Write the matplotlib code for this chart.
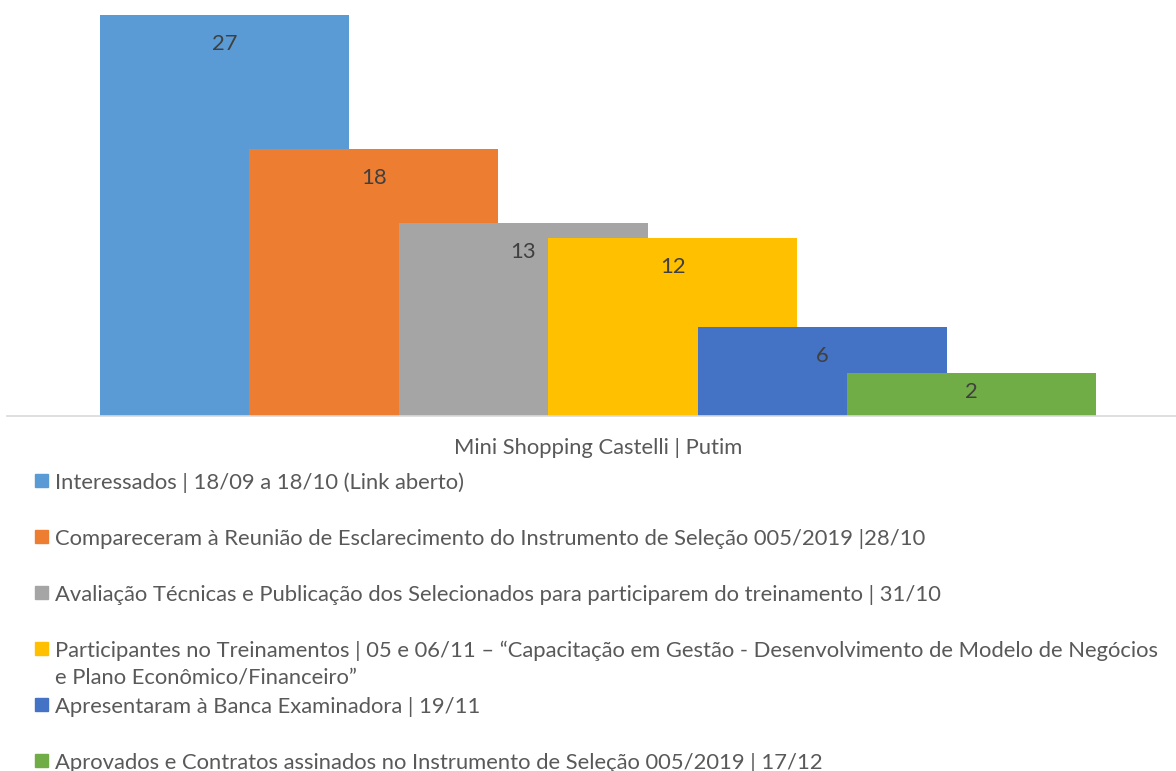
import matplotlib
matplotlib.use('Agg')

import matplotlib.pyplot as plt
from matplotlib.patches import Rectangle

plt.rcParams['font.family'] = ['Lato', 'DejaVu Sans']

# data
category = 'Mini Shopping Castelli | Putim'
series = [
    'Interessados | 18/09 a 18/10 (Link aberto)',
    'Compareceram à Reunião de Esclarecimento do Instrumento de Seleção 005/2019 |28/10',
    'Avaliação Técnicas e Publicação dos Selecionados para participarem do treinamento | 31/10',
    'Participantes no Treinamentos | 05 e 06/11 – “Capacitação em Gestão - Desenvolvimento de Modelo de Negócios\ne Plano Econômico/Financeiro”',
    'Apresentaram à Banca Examinadora | 19/11',
    'Aprovados e Contratos assinados no Instrumento de Seleção 005/2019 | 17/12',
]
# bar heights as drawn in the picture, and the data labels printed on them
heights = [27, 18, 13, 12, 6, 2.9]
labels = ['27', '18', '13', '12', '6', '2']
colors = ['#5B9BD5', '#ED7D31', '#A5A5A5', '#FFC000', '#4472C4', '#70AD47']

W, H = 1176, 771
FS = 15.85
fig = plt.figure(figsize=(W / 100, H / 100), dpi=100)
ax = fig.add_axes([7 / W, (H - 416) / H, (W - 7) / W, 401 / H])

n = len(heights)
step = 0.6
px_per_unit = 401 / 27
for i, (v, lab, c) in enumerate(zip(heights, labels, colors)):
    x = (i - (n - 1) / 2) * step
    ax.bar(x, v, width=1.0, color=c, zorder=2)
    off = min(29, v * px_per_unit * 0.44)
    ax.annotate(lab, (x, v), xytext=(0, -off), textcoords='offset pixels',
                ha='center', va='center', fontsize=FS, color='#404040')

ax.set_xlim((7 - 598) / 249, (1176 - 598) / 249)
ax.set_ylim(0, 27)
for s in ['top', 'left', 'right']:
    ax.spines[s].set_visible(False)
ax.spines['bottom'].set_color('#D9D9D9')
ax.spines['bottom'].set_linewidth(1.2)
ax.set_yticks([])
ax.set_xticks([0])
ax.set_xticklabels([category], fontsize=FS, color='#595959')
ax.tick_params(axis='x', length=0, pad=16)

# legend drawn by hand to keep fixed Excel-like row spacing
y0 = 481
for i, (lab, c) in enumerate(zip(series, colors)):
    yc = y0 + i * 56
    fig.patches.append(Rectangle((35 / W, 1 - (yc + 6) / H), 13 / W, 13 / H,
                                 transform=fig.transFigure, color=c))
    for k, line in enumerate(lab.split('\n')):
        fig.text(55 / W, 1 - (yc + 8 + k * 27) / H, line, ha='left',
                 va='baseline', fontsize=FS, color='#595959')

fig.savefig('out.png', dpi=100)
